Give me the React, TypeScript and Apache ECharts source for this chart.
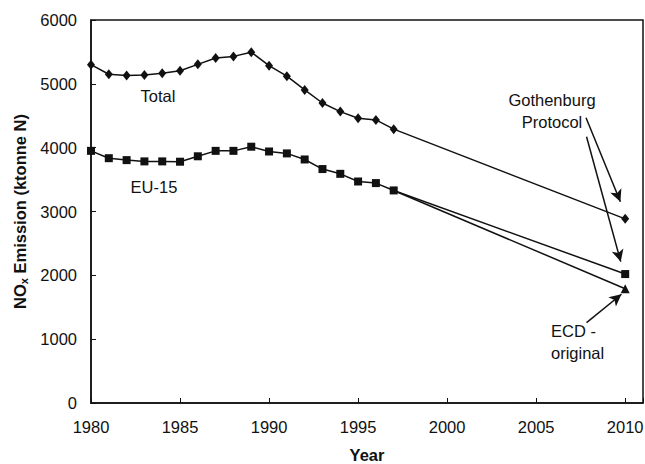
import React, { useEffect, useRef } from "react";
import * as echarts from "echarts";

const years = [1980, 1981, 1982, 1983, 1984, 1985, 1986, 1987, 1988, 1989, 1990, 1991, 1992, 1993, 1994, 1995, 1996, 1997, 2010];
const totalValues = [5300, 5150, 5130, 5140, 5165, 5205, 5305, 5405, 5430, 5495, 5285, 5120, 4905, 4700, 4565, 4460, 4435, 4290, 2885];
const eu15Values = [3950, 3835, 3805, 3785, 3785, 3780, 3865, 3950, 3950, 4015, 3940, 3910, 3815, 3665, 3590, 3470, 3445, 3330, 2020];
const ecdYears = [1997, 2010];
const ecdValues = [3330, 1790];
const xTicks = [1980, 1985, 1990, 1995, 2000, 2005, 2010];
const yTicks = [0, 1000, 2000, 3000, 4000, 5000, 6000];

const FONT = "'Liberation Sans', Arial, Helvetica, sans-serif";
const INK = "#111";
const FS = 16.5;

export default function App() {
  const ref = useRef<HTMLDivElement>(null);
  useEffect(() => {
    if (!ref.current) return;
    const chart = echarts.init(ref.current, undefined, { renderer: "svg" });
    const pair = (xs: number[], ys: number[]) => xs.map((x, i) => [x, ys[i]]);
    const arrowStyle = { color: INK, width: 1.5, type: "solid" as const };
    chart.setOption({
      animation: false,
      backgroundColor: "#fff",
      textStyle: { fontFamily: FONT },
      grid: {
        left: 91, right: 2, top: 20, bottom: 61,
        containLabel: false, outerBoundsMode: "none",
        show: true, borderColor: INK, borderWidth: 1.5, backgroundColor: "transparent",
      },
      xAxis: {
        type: "value",
        min: xTicks[0],
        max: 2011,
        interval: 5,
        name: "Year",
        nameLocation: "middle",
        nameGap: 44,
        nameTextStyle: { fontFamily: FONT, fontSize: FS, fontWeight: "bold", color: INK, lineHeight: 16 },
        axisLine: { lineStyle: { color: INK, width: 1.5 } },
        axisTick: { inside: true, length: 5, lineStyle: { color: INK, width: 1 } },
        axisLabel: {
          fontFamily: FONT, fontSize: FS, color: INK, margin: 15,
          formatter: (v: number) => (xTicks.includes(v) ? String(v) : ""),
        },
        splitLine: { show: false },
      },
      yAxis: {
        type: "value",
        min: yTicks[0],
        max: yTicks[yTicks.length - 1],
        interval: 1000,
        name: "NO{sub|x} Emission (ktonne N)",
        nameLocation: "middle",
        nameGap: 62,
        nameRotate: 90,
        nameTextStyle: {
          fontFamily: FONT, fontSize: FS, fontWeight: "bold", color: INK,
          rich: { sub: { fontFamily: FONT, fontSize: 11, fontWeight: "bold", color: INK, verticalAlign: "bottom", padding: [7, 0, 0, 0] } },
        },
        axisLine: { show: true, lineStyle: { color: INK, width: 1.5 } },
        axisTick: { show: true, inside: true, length: 5, lineStyle: { color: INK, width: 1 } },
        axisLabel: { fontFamily: FONT, fontSize: FS, color: INK, margin: 14, formatter: (v: number) => String(v) },
        splitLine: { show: false },
      },
      series: [
        {
          name: "Total",
          type: "line",
          data: pair(years, totalValues),
          symbol: "diamond",
          symbolSize: [8, 10],
          itemStyle: { color: INK },
          lineStyle: { color: INK, width: 1.5 },
        },
        {
          name: "EU-15",
          type: "line",
          data: pair(years, eu15Values),
          symbol: "rect",
          symbolSize: 8,
          itemStyle: { color: INK },
          lineStyle: { color: INK, width: 1.5 },
        },
        {
          name: "ECD - original",
          type: "line",
          data: pair(ecdYears, ecdValues).map((d, i) => ({ value: d, symbol: i === 0 ? "none" : "triangle" })),
          symbolSize: 9,
          itemStyle: { color: INK },
          lineStyle: { color: INK, width: 1.5 },
          markLine: {
            silent: true,
            symbol: ["none", "arrow"],
            symbolSize: [9, 12],
            label: { show: false },
            lineStyle: arrowStyle,
            data: [
              [{ coord: [2007.8, 4470] }, { coord: [2009.73, 3154] }],
              [{ coord: [2007.83, 4172] }, { coord: [2009.75, 2214] }],
              [{ coord: [2007.83, 1258] }, { coord: [2009.79, 1703] }],
            ],
          },
        },
      ],
      graphic: [
        { type: "text", x: 158, y: 96, style: { text: "Total", font: `${FS}px ${FONT}`, fill: INK, align: "center", verticalAlign: "middle" } },
        { type: "text", x: 154, y: 187, style: { text: "EU-15", font: `${FS}px ${FONT}`, fill: INK, align: "center", verticalAlign: "middle" } },
        { type: "text", x: 552, y: 111, style: { text: "Gothenburg\nProtocol", font: `${FS}px ${FONT}`, lineHeight: 22, fill: INK, align: "center", verticalAlign: "middle" } },
        { type: "text", x: 551, y: 342, style: { text: "ECD -\noriginal", font: `${FS}px ${FONT}`, lineHeight: 22, fill: INK, align: "left", verticalAlign: "middle" } },
      ],
    });
    return () => chart.dispose();
  }, []);
  return <div ref={ref} style={{ position: "fixed", left: 0, top: 0, width: 645, height: 464, background: "#fff" }} />;
}
